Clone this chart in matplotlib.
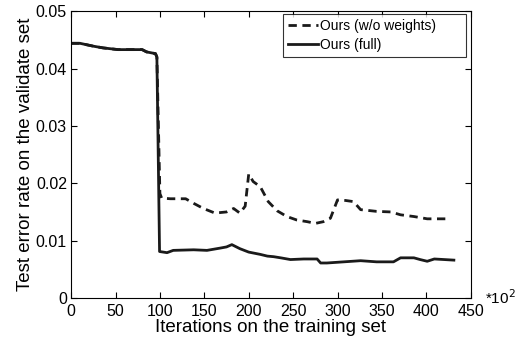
import matplotlib
matplotlib.use("Agg")
import matplotlib.pyplot as plt

plt.rcParams['font.family'] = ['Liberation Sans', 'DejaVu Sans']

# full model
full_x = [0, 10, 25, 36, 53, 80, 85, 95, 96.6, 99.6, 108, 115, 138, 153, 168, 175, 181,
          190, 200, 213, 221, 228, 236, 247, 262, 277, 281, 288, 307, 326, 344, 363,
          371, 386, 393, 401, 409, 420, 431]
full_y = [0.0444, 0.0444, 0.0439, 0.0436, 0.0433, 0.0433, 0.0429, 0.0426, 0.0420, 0.0081,
          0.0079, 0.0083, 0.0084, 0.0083, 0.0087, 0.0089, 0.0093, 0.0086, 0.0080, 0.0076,
          0.0073, 0.0072, 0.0070, 0.0067, 0.0068, 0.0068, 0.0061, 0.0061, 0.0063, 0.0065,
          0.0063, 0.0063, 0.0070, 0.0070, 0.0067, 0.0064, 0.0068, 0.0067, 0.0066]

# without weights
now_x = [0, 10, 25, 36, 53, 80, 85, 95, 96.6, 100, 102, 112, 129, 138, 149, 162, 175, 183,
         190, 196, 200, 205, 213, 222, 232, 243, 254, 266, 275, 284, 292, 300, 309, 318,
         326, 344, 360, 371, 386, 401, 416, 426]
now_y = [0.0444, 0.0444, 0.0439, 0.0436, 0.0433, 0.0433, 0.0429, 0.0426, 0.0420, 0.0182,
         0.0174, 0.0173, 0.0173, 0.0165, 0.0156, 0.0148, 0.0150, 0.0156, 0.0148, 0.0160,
         0.0216, 0.0203, 0.0194, 0.0168, 0.0152, 0.0142, 0.0136, 0.0133, 0.0130, 0.0133,
         0.0139, 0.0171, 0.0170, 0.0168, 0.0154, 0.0151, 0.0150, 0.0145, 0.0142, 0.0138,
         0.0138, 0.0138]

fig = plt.figure(figsize=(5.19, 3.39), dpi=100)
ax = fig.add_axes([0.137, 0.121, 0.770, 0.846])

ax.plot(now_x, now_y, color='#1a1a1a', linestyle=(0, (3, 2)), linewidth=2,
        label='Ours (w/o weights)')
ax.plot(full_x, full_y, color='#1a1a1a', linestyle='-', linewidth=2, label='Ours (full)')

ax.set_xlim(0, 450)
ax.set_ylim(0, 0.05)
ax.set_xticks(range(0, 451, 50))
ax.set_yticks([0, 0.01, 0.02, 0.03, 0.04, 0.05])
ax.set_yticklabels(['0', '0.01', '0.02', '0.03', '0.04', '0.05'])
ax.tick_params(direction='in', top=True, right=True, labelsize=11.5, length=4, pad=3)
ax.tick_params(axis='x', pad=4)
for s in ax.spines.values():
    s.set_linewidth(0.8)

ax.set_xlabel('Iterations on the training set', fontsize=13.5, labelpad=0)
ax.set_ylabel('Test error rate on the validate set', fontsize=13.5, labelpad=1)
ax.text(1.035, 0.0, '*10$^2$', transform=ax.transAxes, fontsize=11, va='center', ha='left')

leg = ax.legend(loc='upper left', bbox_to_anchor=(0.53, 0.854, 0.4575, 0.1355),
                mode='expand', borderaxespad=0, fontsize=10, frameon=True, fancybox=False,
                edgecolor='black', handlelength=2.2, handletextpad=0.15,
                borderpad=0.35, labelspacing=0.35)
leg.get_frame().set_linewidth(0.8)

fig.savefig('out.png', dpi=100)
